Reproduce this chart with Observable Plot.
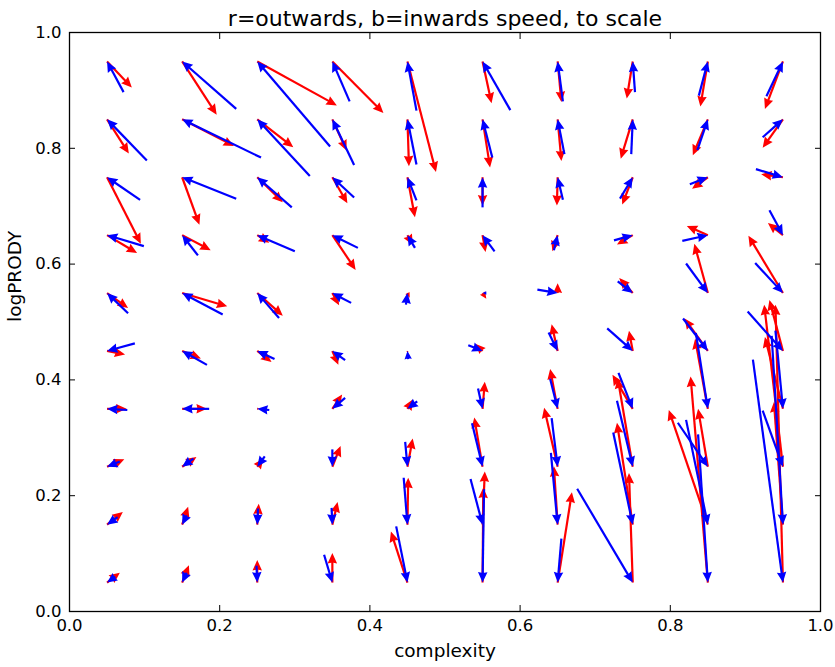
<!DOCTYPE html>
<html><head><meta charset="utf-8">
<script src="https://cdn.jsdelivr.net/npm/d3@7"></script>
<script src="https://cdn.jsdelivr.net/npm/@observablehq/plot@0.6"></script>
<style>body{margin:0;background:#fff} svg{display:block}</style>
</head><body><div id="chart"></div>
<script>
// grid of bin centres
const gridX = [0.05,0.15,0.25,0.35,0.45,0.55,0.65,0.75,0.85,0.95];
const gridY = [0.95,0.85,0.75,0.65,0.55,0.45,0.35,0.25,0.15,0.05]; // rows, top to bottom

// inwards (blue) vectors, arrow tip sits on the grid point
const blueU = [
  [-0.022,-0.072,-0.097,-0.023,-0.012,-0.037,-0.007,-0.003,0.012,0.022],
  [-0.053,-0.105,-0.070,-0.029,-0.012,-0.013,-0.009,0.002,0.014,0.027],
  [-0.044,-0.072,-0.046,-0.029,-0.012,0.000,-0.007,0.017,0.024,0.036],
  [-0.049,-0.021,-0.050,-0.034,-0.010,-0.016,0.005,0.025,0.034,0.018],
  [-0.028,-0.054,-0.029,-0.025,0.002,-0.005,0.027,0.020,0.029,0.037],
  [-0.037,-0.033,-0.023,-0.017,-0.001,0.019,0.012,0.034,0.033,0.047],
  [-0.027,-0.036,-0.016,-0.017,-0.013,0.006,0.010,0.019,0.016,0.010],
  [-0.017,-0.015,-0.010,0.000,0.003,0.014,0.008,0.021,0.040,0.027],
  [-0.014,-0.006,-0.001,0.001,0.005,0.016,0.009,0.026,0.029,0.015],
  [-0.011,-0.006,0.001,0.011,0.015,-0.002,-0.005,0.074,0.013,0.040]
];
const blueV = [
  [0.053,0.082,0.147,0.069,0.085,0.084,0.069,0.053,0.059,0.060],
  [0.071,0.066,0.098,0.079,0.078,0.066,0.060,0.060,0.053,0.031],
  [0.039,0.037,0.052,0.035,0.040,0.052,0.039,0.037,0.012,-0.014],
  [0.019,0.035,0.028,0.022,0.022,0.028,0.026,0.009,0.010,-0.043],
  [0.035,0.037,0.043,0.017,0.020,0.000,-0.006,-0.020,-0.051,-0.052],
  [-0.013,0.024,0.014,0.016,0.014,-0.010,-0.032,-0.039,-0.056,-0.068],
  [0.002,0.000,0.002,-0.019,-0.013,-0.035,-0.052,-0.062,-0.131,-0.135],
  [-0.009,-0.014,-0.018,-0.030,-0.043,-0.075,-0.084,-0.114,-0.076,-0.097],
  [-0.013,-0.016,-0.028,-0.029,-0.081,-0.079,-0.124,-0.159,-0.181,-0.326],
  [-0.010,-0.017,-0.029,-0.048,-0.097,-0.161,-0.076,-0.162,-0.256,-0.385]
];
// outwards (red) vectors, arrow tail sits on the grid point
const redU = [
  [0.033,0.046,0.106,0.068,0.038,0.012,0.005,-0.008,-0.010,-0.024],
  [0.029,0.069,0.048,0.019,0.002,0.010,0.005,-0.016,-0.020,-0.027],
  [0.045,0.023,0.034,0.020,0.010,0.000,-0.001,-0.014,-0.021,-0.029],
  [0.040,0.038,0.016,0.031,0.007,0.004,-0.007,-0.021,-0.028,-0.020],
  [0.028,0.060,0.034,0.009,0.003,0.005,0.000,-0.018,-0.018,-0.046],
  [0.024,0.025,0.019,0.008,0.000,-0.009,-0.008,-0.005,-0.031,-0.018],
  [0.026,0.033,0.003,0.013,0.007,0.003,-0.010,-0.027,-0.017,-0.024],
  [0.023,0.019,0.008,0.011,0.007,-0.011,-0.018,-0.020,-0.013,-0.025],
  [0.021,0.008,0.002,0.007,0.001,0.003,-0.005,-0.021,-0.052,-0.012],
  [0.017,0.009,0.000,0.000,-0.022,0.001,0.019,-0.005,-0.023,-0.010]
];
const redV = [
  [-0.045,-0.092,-0.076,-0.089,-0.191,-0.072,-0.070,-0.064,-0.078,-0.082],
  [-0.059,-0.046,-0.048,-0.054,-0.081,-0.083,-0.072,-0.068,-0.062,-0.049],
  [-0.115,-0.082,-0.043,-0.045,-0.069,-0.049,-0.049,-0.047,-0.020,0.005],
  [-0.031,-0.026,-0.013,-0.060,-0.017,-0.029,-0.028,-0.016,0.016,0.021],
  [-0.026,-0.023,-0.039,-0.021,-0.008,-0.010,0.017,0.026,0.085,0.099],
  [-0.006,-0.013,-0.019,-0.024,-0.003,0.012,0.046,0.035,0.056,0.088],
  [0.000,0.000,0.000,0.025,0.016,0.047,0.069,0.059,0.121,0.124],
  [0.013,0.017,0.014,0.036,0.049,0.085,0.102,0.153,0.100,0.280],
  [0.022,0.031,0.036,0.039,0.081,0.092,0.101,0.176,0.198,0.212],
  [0.017,0.030,0.039,0.051,0.088,0.164,0.156,0.189,0.356,0.480]
];

const xTicks = [0.0,0.2,0.4,0.6,0.8,1.0];
const yTicks = [0.0,0.2,0.4,0.6,0.8,1.0];
const titleText = "r=outwards, b=inwards speed, to scale";
const xLabel = "complexity";
const yLabel = "logPRODY";

// layout
const W = 835, H = 667, mL = 69, mR = 15, mT = 32, mB = 56;
const kx = W - mL - mR, ky = H - mT - mB; // px per data unit
const HL = 10.5, HW = 9.5, SHAFT = 2.2, R0 = 10;
const FONT = "DejaVu Sans, sans-serif";

function buildArrows(U, V, inward) {
  const out = [];
  gridY.forEach((gy, i) => gridX.forEach((gx, j) => {
    const u = U[i][j], v = V[i][j];
    const tail = inward ? [gx - u, gy - v] : [gx, gy];
    const tip = inward ? [gx, gy] : [gx + u, gy + v];
    const sx = u * kx, sy = -v * ky;
    const L = Math.hypot(sx, sy);
    if (L < 0.8) return;
    const s = Math.min(1, L / HL);
    const back = HL * s * 0.8;
    const f = Math.max(0, (L - back) / L);
    out.push({
      x1: tail[0], y1: tail[1], x2: tail[0] + u * f, y2: tail[1] + v * f,
      tx: tip[0], ty: tip[1], r: R0 * s, angle: Math.atan2(sx, -sy) * 180 / Math.PI, f
    });
  }));
  return out;
}
const blue = buildArrows(blueU, blueV, true);
const red = buildArrows(redU, redV, false);

const headSymbol = {
  draw(ctx, size) {
    const s = Math.sqrt(size / Math.PI) / R0;
    const l = HL * s, w = HW * s / 2, n = l * 0.9;
    ctx.moveTo(0, 0); ctx.lineTo(w, l); ctx.lineTo(0, n); ctx.lineTo(-w, l); ctx.closePath();
  }
};

function arrowMarks(data, color) {
  return [
    Plot.link(data.filter(d => d.f > 0), {x1: "x1", y1: "y1", x2: "x2", y2: "y2", stroke: color, strokeWidth: SHAFT, strokeLinecap: "butt"}),
    Plot.dot(data, {x: "tx", y: "ty", r: "r", rotate: "angle", symbol: headSymbol, fill: color, stroke: "none"})
  ];
}

const chart = Plot.plot({
  width: W, height: H,
  marginLeft: mL, marginRight: mR, marginTop: mT, marginBottom: mB,
  x: {domain: [0, 1]},
  y: {domain: [0, 1]},
  r: {type: "identity"},
  style: {fontFamily: FONT, fontSize: "16.5px", background: "white", color: "black"},
  marks: [
    ...arrowMarks(red, "#ff0000"),
    ...arrowMarks(blue, "#0000ff"),
    Plot.frame({stroke: "black", strokeWidth: 1.3}),
    Plot.axisX({ticks: xTicks, anchor: "bottom", tickSize: -6, tickPadding: 14, tickFormat: d3.format(".1f"), label: null, fontSize: 16.5}),
    Plot.axisX({ticks: xTicks, anchor: "top", tickSize: -6, fill: "none", label: null}),
    Plot.axisY({ticks: yTicks, anchor: "left", tickSize: -6, tickPadding: 14, tickFormat: d3.format(".1f"), label: null, fontSize: 16.5}),
    Plot.axisY({ticks: yTicks, anchor: "right", tickSize: -6, fill: "none", label: null}),
    Plot.text([xLabel], {frameAnchor: "bottom", dy: 45, text: d => d, fontSize: 18.5, fill: "black"}),
    Plot.text([yLabel], {frameAnchor: "left", dx: -54, rotate: -90, text: d => d, fontSize: 18.5, fill: "black"}),
    Plot.text([titleText], {frameAnchor: "top", dy: -7, lineAnchor: "bottom", text: d => d, fontSize: 22, fill: "black"})
  ]
});
document.getElementById("chart").appendChild(chart);
</script>
</body></html>
